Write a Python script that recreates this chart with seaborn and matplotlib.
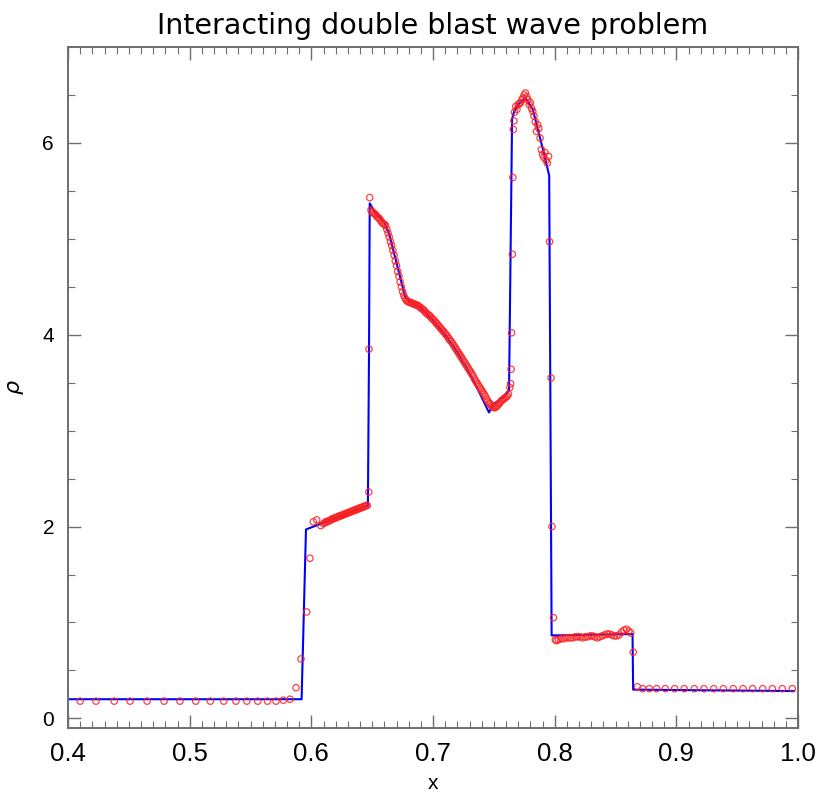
import matplotlib
matplotlib.use("Agg")
import matplotlib.pyplot as plt
from matplotlib.ticker import MultipleLocator
import seaborn as sns
import pandas as pd

# Reference (exact) solution: blue line
blue_x = [0.400, 0.592, 0.5956, 0.6465, 0.6474, 0.648, 0.652, 0.660, 0.664, 0.670, 0.677,
          0.680, 0.690, 0.700, 0.710, 0.720, 0.730, 0.738, 0.746, 0.750, 0.758, 0.7625,
          0.765, 0.7665, 0.770, 0.776, 0.782, 0.790, 0.7955, 0.7975, 0.864, 0.8645, 0.997]
blue_rho = [0.20, 0.20, 1.97, 2.22, 3.80, 5.37, 5.28, 5.17, 5.05, 4.75, 4.40,
            4.35, 4.28, 4.15, 4.00, 3.82, 3.60, 3.40, 3.19, 3.28, 3.35, 3.42,
            6.25, 6.32, 6.40, 6.47, 6.35, 5.95, 5.66, 0.865, 0.88, 0.30, 0.285]

# Numerical solution: red circles
red_x = [0.410, 0.423, 0.438, 0.451, 0.465, 0.479, 0.492, 0.505, 0.517, 0.528, 0.538,
         0.547, 0.556, 0.564, 0.571, 0.577, 0.5825, 0.5874, 0.5915, 0.5962, 0.5989,
         0.6016, 0.6044, 0.6077,
         0.610, 0.611, 0.612, 0.613, 0.614, 0.615, 0.616, 0.617, 0.618, 0.619, 0.620,
         0.621, 0.622, 0.623, 0.624, 0.625, 0.626, 0.627, 0.628, 0.629, 0.630, 0.631,
         0.632, 0.633, 0.634, 0.635, 0.636, 0.637, 0.638, 0.639, 0.640, 0.641, 0.642,
         0.643, 0.644, 0.645, 0.646, 0.6472, 0.6474, 0.648,
         0.649, 0.650, 0.651, 0.652, 0.653, 0.654, 0.655, 0.656, 0.657, 0.658, 0.659,
         0.660, 0.661, 0.662, 0.663, 0.664, 0.665, 0.666, 0.667, 0.668, 0.669, 0.670,
         0.671, 0.672, 0.673, 0.674, 0.675, 0.676, 0.677, 0.678, 0.679, 0.680, 0.681,
         0.682, 0.683, 0.684, 0.685, 0.686, 0.687, 0.688, 0.689, 0.690, 0.691, 0.692,
         0.693, 0.694, 0.695, 0.696, 0.697, 0.698, 0.699, 0.700, 0.701, 0.702, 0.703,
         0.704, 0.705, 0.706, 0.707, 0.708, 0.709, 0.710, 0.711, 0.712, 0.713, 0.714,
         0.715, 0.716, 0.717, 0.718, 0.719, 0.720, 0.721, 0.722, 0.723, 0.724, 0.725,
         0.726, 0.727, 0.728, 0.729, 0.730, 0.731, 0.732, 0.733, 0.734, 0.735, 0.736,
         0.737, 0.738, 0.739, 0.740, 0.741, 0.742, 0.743, 0.744, 0.745, 0.746, 0.747,
         0.748, 0.749, 0.750, 0.751, 0.752, 0.753, 0.754, 0.755, 0.756, 0.757, 0.758,
         0.759, 0.760, 0.761, 0.762, 0.7632, 0.7638, 0.7642, 0.7646, 0.7652, 0.7656,
         0.7660, 0.7665, 0.767, 0.768, 0.769, 0.770, 0.771, 0.772, 0.773, 0.774, 0.775,
         0.776, 0.777, 0.778, 0.779, 0.780, 0.781, 0.782, 0.783, 0.784, 0.785, 0.786,
         0.787, 0.788, 0.789, 0.790, 0.791, 0.792, 0.793, 0.794, 0.795,
         0.7958, 0.7970, 0.7978, 0.7990,
         0.8005, 0.8015, 0.803, 0.805, 0.807, 0.809, 0.811, 0.813, 0.815, 0.817, 0.819,
         0.821, 0.823, 0.825, 0.827, 0.829, 0.831, 0.833, 0.835, 0.837, 0.839, 0.841,
         0.843, 0.845, 0.847, 0.849, 0.851, 0.853, 0.855, 0.857, 0.859, 0.861, 0.8625,
         0.8646,
         0.868, 0.8723, 0.8778, 0.8838, 0.8909, 0.8986, 0.9065, 0.9148, 0.9227, 0.9307,
         0.9386, 0.9468, 0.9548, 0.9627, 0.9710, 0.9789, 0.9871, 0.9953]
red_rho = [0.18, 0.18, 0.18, 0.18, 0.18, 0.18, 0.18, 0.18, 0.18, 0.18, 0.18,
           0.18, 0.18, 0.18, 0.18, 0.19, 0.20, 0.32, 0.62, 1.11, 1.67,
           2.05, 2.07, 2.01,
           2.03, 2.04, 2.05, 2.05, 2.06, 2.06, 2.07, 2.08, 2.08, 2.09, 2.09,
           2.10, 2.10, 2.11, 2.11, 2.12, 2.12, 2.13, 2.13, 2.14, 2.14, 2.15,
           2.15, 2.16, 2.16, 2.17, 2.17, 2.18, 2.18, 2.19, 2.19, 2.20, 2.20,
           2.21, 2.21, 2.22, 2.22, 2.36, 3.85, 5.43,
           5.30, 5.28, 5.27, 5.26, 5.25, 5.23, 5.22, 5.21, 5.19, 5.17, 5.16,
           5.15, 5.14, 5.10, 5.06, 5.02, 4.97, 4.93, 4.88, 4.83, 4.77, 4.72,
           4.66, 4.61, 4.55, 4.50, 4.45, 4.41, 4.38, 4.36, 4.35, 4.34, 4.34,
           4.33, 4.33, 4.32, 4.32, 4.31, 4.31, 4.30, 4.29, 4.28, 4.27, 4.26,
           4.25, 4.23, 4.22, 4.21, 4.20, 4.19, 4.17, 4.16, 4.15, 4.13, 4.12,
           4.10, 4.09, 4.07, 4.06, 4.04, 4.03, 4.01, 4.00, 3.98, 3.96, 3.94,
           3.93, 3.91, 3.89, 3.87, 3.85, 3.83, 3.81, 3.79, 3.77, 3.75, 3.73,
           3.71, 3.69, 3.67, 3.65, 3.63, 3.61, 3.59, 3.57, 3.54, 3.52, 3.50,
           3.48, 3.46, 3.44, 3.42, 3.40, 3.38, 3.36, 3.33, 3.31, 3.29, 3.28,
           3.26, 3.25, 3.24, 3.24, 3.25, 3.26, 3.28, 3.29, 3.31, 3.32, 3.33,
           3.34, 3.35, 3.36, 3.38, 3.45, 3.49, 3.64, 4.02, 4.84, 5.64,
           6.14, 6.23, 6.32, 6.38, 6.35, 6.40, 6.41, 6.42, 6.45, 6.47, 6.50,
           6.52, 6.48, 6.45, 6.40, 6.42, 6.36, 6.33, 6.28, 6.22, 6.12, 6.19,
           6.15, 6.05, 5.93, 5.88, 5.85, 5.90, 5.82, 5.79, 5.86,
           4.97, 3.55, 2.00, 1.05,
           0.82, 0.81, 0.82, 0.83, 0.83, 0.84, 0.84, 0.84, 0.84, 0.85, 0.85,
           0.85, 0.84, 0.85, 0.85, 0.86, 0.86, 0.85, 0.84, 0.85, 0.86, 0.87,
           0.88, 0.88, 0.87, 0.86, 0.86, 0.87, 0.90, 0.92, 0.93, 0.91, 0.89,
           0.69,
           0.33, 0.31, 0.31, 0.31, 0.31, 0.31, 0.31, 0.31, 0.31, 0.31,
           0.31, 0.31, 0.31, 0.31, 0.31, 0.31, 0.31, 0.31]

x_ticks = [0.4, 0.5, 0.6, 0.7, 0.8, 0.9, 1.0]
x_tick_labels = ["0.4", "0.5", "0.6", "0.7", "0.8", "0.9", "1.0"]
y_ticks = [0, 2, 4, 6]
y_tick_labels = ["0", "2", "4", "6"]

blue_df = pd.DataFrame({"x": blue_x, "rho": blue_rho})
red_df = pd.DataFrame({"x": red_x, "rho": red_rho})

sns.set_theme(style="white")
plt.rcParams["font.family"] = ["Liberation Sans", "DejaVu Sans"]
plt.rcParams["text.color"] = "black"
plt.rcParams["axes.labelcolor"] = "black"

fig = plt.figure(figsize=(8.18, 7.95), dpi=100)
ax = fig.add_axes([68 / 818, 67 / 795, 730 / 818, 681 / 795])

sns.lineplot(data=blue_df, x="x", y="rho", sort=False, estimator=None,
             color="#0000ff", linewidth=1.5, ax=ax, zorder=2)
sns.scatterplot(data=red_df, x="x", y="rho", marker="o", s=21,
                facecolors="none", edgecolor="#ff2020", linewidth=0.9,
                alpha=0.85, ax=ax, zorder=3)

ax.set_xlim(0.4, 1.0)
ax.set_ylim(-0.1, 7.0)
ax.set_xticks(x_ticks)
ax.set_xticklabels(x_tick_labels)
ax.set_yticks(y_ticks)
ax.set_yticklabels(y_tick_labels)
ax.xaxis.set_minor_locator(MultipleLocator(0.01))
ax.yaxis.set_minor_locator(MultipleLocator(0.5))

spine_color = "#6e6e6e"
for sp in ax.spines.values():
    sp.set_visible(True)
    sp.set_color(spine_color)
    sp.set_linewidth(1.4)

ax.tick_params(axis="both", which="both", direction="in", top=True, right=True,
               bottom=True, left=True, colors=spine_color, labelcolor="black")
ax.tick_params(axis="x", which="major", length=9.5, width=1.0, labelsize=18.5, pad=10)
ax.tick_params(axis="x", which="minor", length=5, width=0.8)
ax.tick_params(axis="y", which="major", length=9.5, width=1.0, labelsize=15, pad=10)
ax.tick_params(axis="y", which="minor", length=5, width=0.8)

ax.set_xlabel("x", fontsize=15, labelpad=6, color="black")
ax.set_ylabel(r"$\rho$", fontsize=16, labelpad=12, color="black")
ax.set_title("Interacting double blast wave problem", fontsize=20.5,
             family="DejaVu Sans", fontweight="normal", color="black", pad=9)
ax.grid(False)

fig.savefig("out.png", dpi=100)
